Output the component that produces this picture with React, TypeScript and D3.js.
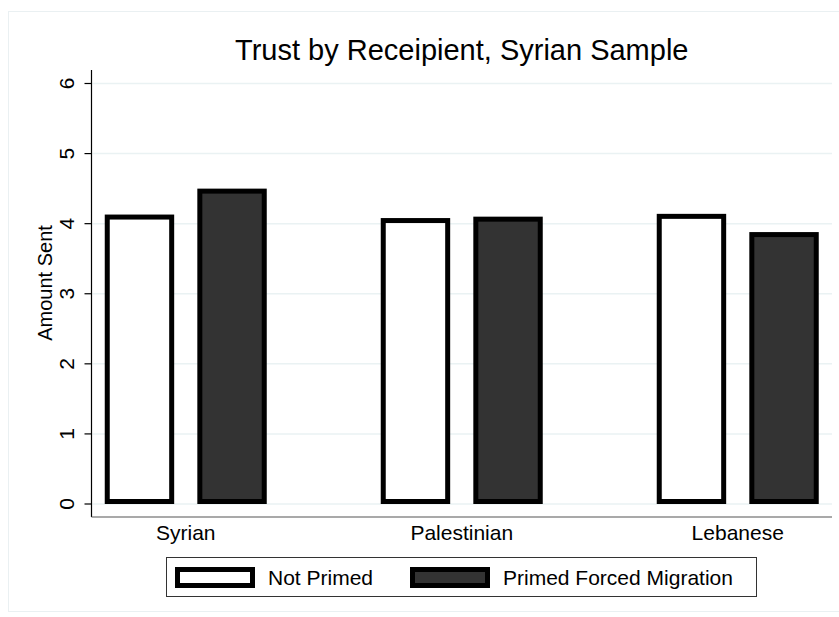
import React from "react";
import * as d3 from "d3";

// values
const groups = ["Syrian", "Palestinian", "Lebanese"];
const series = ["Not Primed", "Primed Forced Migration"];
const notPrimed = [4.13, 4.08, 4.14];
const primed = [4.5, 4.1, 3.88];
const yTicks = [0, 1, 2, 3, 4, 5, 6];

const W = 839;
const H = 617;
const font = "'Liberation Sans', Arial, Helvetica, sans-serif";

export default function App() {
  // plot region
  const left = 91.5;
  const right = 832;
  const top = 70;
  const bottom = 517;

  const y = d3.scaleLinear().domain([0, 6]).range([504, 83.5]);
  const x = d3.scalePoint<string>().domain(groups).range([left, right]).padding(0.3415);
  const inner = d3.scaleBand<string>().domain(series).range([-81, 81]).paddingInner(0.25);
  const fills = ["#ffffff", "#333333"];
  const sw = 5;

  const rows = groups.map((g, i) => ({ g, vals: [notPrimed[i], primed[i]] }));

  return (
    <svg
      width={W}
      height={H}
      style={{ position: "absolute", left: 0, top: 0, background: "#fff" }}
      fontFamily={font}
    >
      {/* graph region outline */}
      <rect x={8.5} y={11.5} width={840} height={600} fill="none" stroke="#eaf0f2" strokeWidth={1} />

      <text x={(left + right) / 2} y={60} textAnchor="middle" fontSize={29} fill="#000">
        Trust by Receipient, Syrian Sample
      </text>

      {/* grid */}
      {yTicks.map((t) => (
        <line key={"g" + t} x1={left + 1} x2={right} y1={y(t)} y2={y(t)} stroke="#eaf2f3" strokeWidth={1.5} />
      ))}

      {/* bars */}
      {rows.map((r) =>
        r.vals.map((v, j) => {
          const bx = (x(r.g) as number) + (inner(series[j]) as number);
          return (
            <rect
              key={r.g + j}
              x={bx + sw / 2}
              y={y(v) + sw / 2}
              width={inner.bandwidth() - sw}
              height={y(0) - y(v) - sw}
              fill={fills[j]}
              stroke="#000"
              strokeWidth={sw}
            />
          );
        })
      )}

      {/* y axis */}
      <line x1={left} x2={left} y1={top} y2={bottom} stroke="#000" strokeWidth={1.2} />
      {yTicks.map((t) => (
        <g key={"t" + t}>
          <line x1={left - 7} x2={left} y1={y(t)} y2={y(t)} stroke="#000" strokeWidth={1.2} />
          <text
            transform={`translate(74,${y(t)}) rotate(-90)`}
            textAnchor="middle"
            fontSize={21}
            fill="#000"
          >
            {t}
          </text>
        </g>
      ))}
      <text transform={`translate(51.5,283) rotate(-90)`} textAnchor="middle" fontSize={20} fill="#000">
        Amount Sent
      </text>

      {/* x axis */}
      <line x1={left} x2={right} y1={bottom} y2={bottom} stroke="#555" strokeWidth={1.2} />
      {groups.map((g) => (
        <text key={g} x={x(g)} y={540} textAnchor="middle" fontSize={21} fill="#000">
          {g}
        </text>
      ))}

      {/* legend */}
      <rect x={166.5} y={557.5} width={590} height={39} fill="#fff" stroke="#333" strokeWidth={1} />
      {series.map((s, j) => {
        const lx = j === 0 ? 175 : 410;
        return (
          <g key={s}>
            <rect x={lx + sw / 2} y={567 + sw / 2} width={80 - sw} height={21 - sw} fill={fills[j]} stroke="#000" strokeWidth={sw} />
            <text x={lx + 93} y={585} fontSize={21} fill="#000">
              {s}
            </text>
          </g>
        );
      })}
    </svg>
  );
}
